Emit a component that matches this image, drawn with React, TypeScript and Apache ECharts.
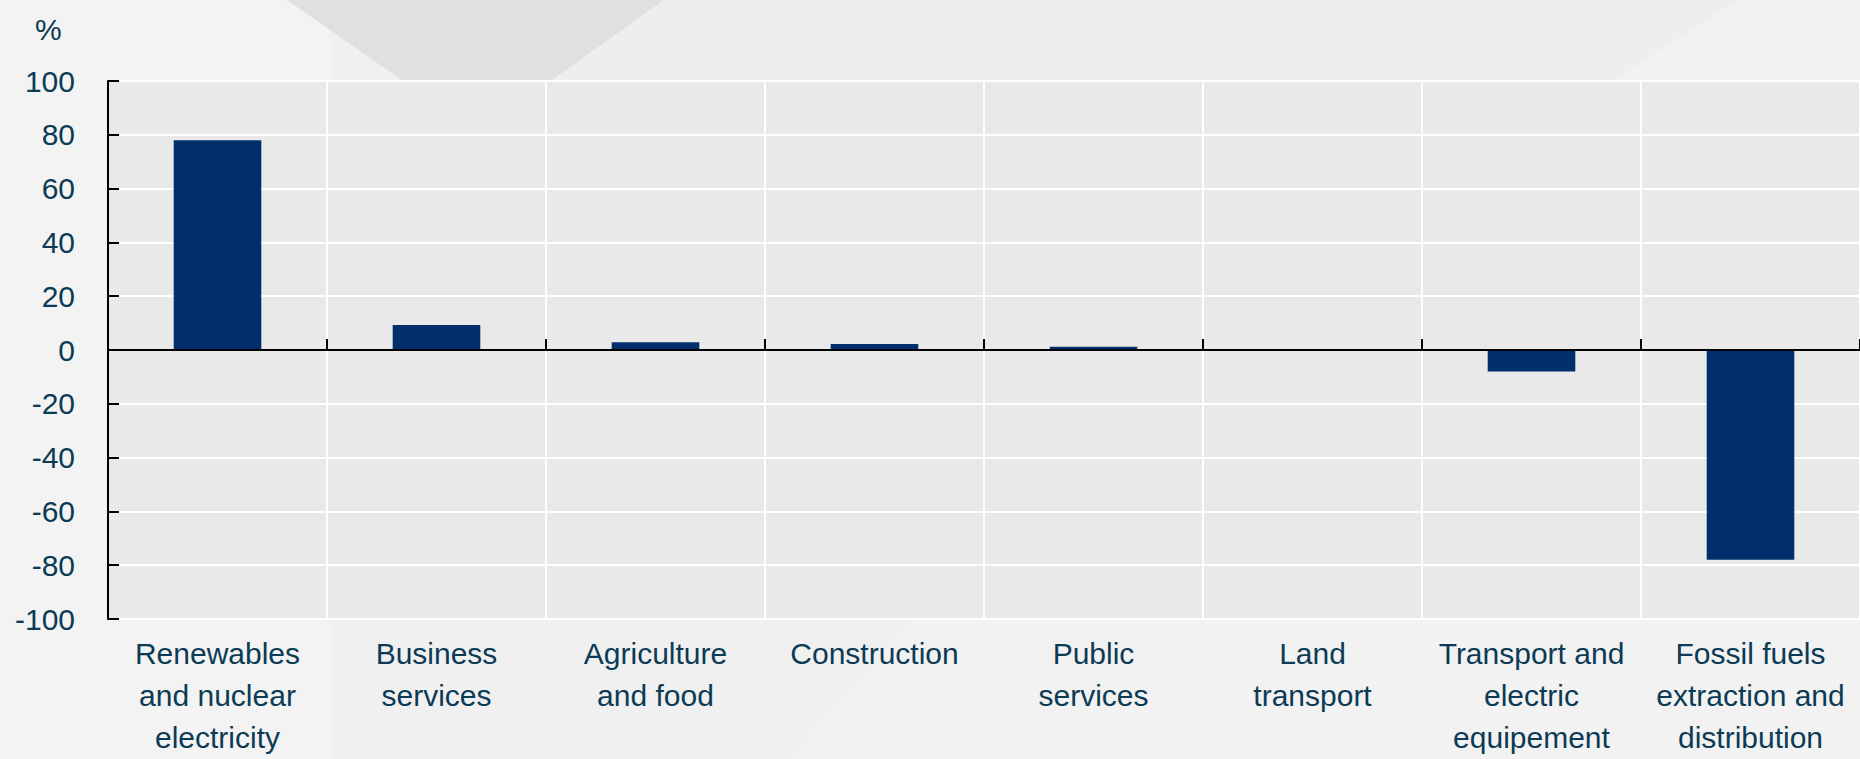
import React, { useEffect, useRef } from "react";
import * as echarts from "echarts";

const categories = [
  "Renewables\nand nuclear\nelectricity",
  "Business\nservices",
  "Agriculture\nand food",
  "Construction",
  "Public\nservices",
  "Land\ntransport",
  "Transport and\nelectric\nequipement",
  "Fossil fuels\nextraction and\ndistribution",
];
const values = [78, 9.3, 2.9, 2.2, 1.2, 0, -8, -78];
const yMin = -100;
const yMax = 100;
const yStep = 20;
const unitLabel = "%";

const FONT = "'Liberation Sans', Arial, sans-serif";
const TEXT = "#0c3b55";

export default function App() {
  const ref = useRef<HTMLDivElement>(null);
  useEffect(() => {
    if (!ref.current) return;
    const chart = echarts.init(ref.current, undefined, { renderer: "svg" });
    chart.setOption({
      animation: false,
      backgroundColor: "#f0f0f0",
      graphic: [
        { type: "rect", silent: true, z: -10, shape: { x: 0, y: 0, width: 330, height: 759 }, style: { fill: "#f3f3f3" } },
        { type: "polygon", silent: true, z: -9, shape: { points: [[287, 0], [664, 0], [551, 81], [403, 81]] }, style: { fill: "#e0e0e0" } },
        { type: "polygon", silent: true, z: -9, shape: { points: [[664, 0], [1738, 0], [1613, 81], [551, 81]] }, style: { fill: "#eeeeee" } },
        { type: "polygon", silent: true, z: -9, shape: { points: [[1738, 0], [1860, 0], [1860, 81], [1613, 81]] }, style: { fill: "#f2f2f2" } },
        { type: "polygon", silent: true, z: -9, shape: { points: [[913, 620], [1860, 620], [1860, 759], [789, 759]] }, style: { fill: "#f2f2f2" } },
      ],
      title: {
        text: unitLabel,
        left: 30,
        top: 9,
        textStyle: { fontFamily: FONT, fontSize: 30, fontWeight: "normal", color: TEXT },
      },
      grid: { left: 108, top: 81, width: 1754, height: 538, backgroundColor: "#e9e9e9", show: true, borderWidth: 0 },
      xAxis: [
        {
          type: "category",
          data: categories,
          axisLine: { onZero: true, lineStyle: { color: "#000", width: 2 } },
          axisTick: { show: true, inside: true, length: 11, lineStyle: { color: "#000", width: 2 } },
          axisLabel: { show: false },
          splitLine: { show: false },
          z: 5,
        },
        {
          type: "category",
          data: categories,
          position: "bottom",
          axisLine: { show: false, onZero: false },
          axisTick: { show: false },
          splitLine: { show: true, lineStyle: { color: "#ffffff", width: 2 } },
          axisLabel: {
            interval: 0,
            margin: 13,
            fontFamily: FONT,
            fontSize: 30,
            lineHeight: 42,
            color: TEXT,
            align: "center",
          },
        },
      ],
      yAxis: {
        type: "value",
        min: yMin,
        max: yMax,
        interval: yStep,
        axisLine: { show: true, lineStyle: { color: "#000", width: 2 } },
        axisTick: { show: true, inside: true, length: 11, lineStyle: { color: "#000", width: 2 } },
        axisLabel: { margin: 33, fontFamily: FONT, fontSize: 30, color: TEXT },
        splitLine: { show: true, lineStyle: { color: "#ffffff", width: 2 } },
      },
      series: [
        {
          type: "bar",
          xAxisIndex: 0,
          data: values,
          barWidth: "40%",
          itemStyle: { color: "#002f6c" },
        },
      ],
    });
    return () => chart.dispose();
  }, []);
  return <div ref={ref} style={{ position: "fixed", left: 0, top: 0, width: 1860, height: 759 }} />;
}
